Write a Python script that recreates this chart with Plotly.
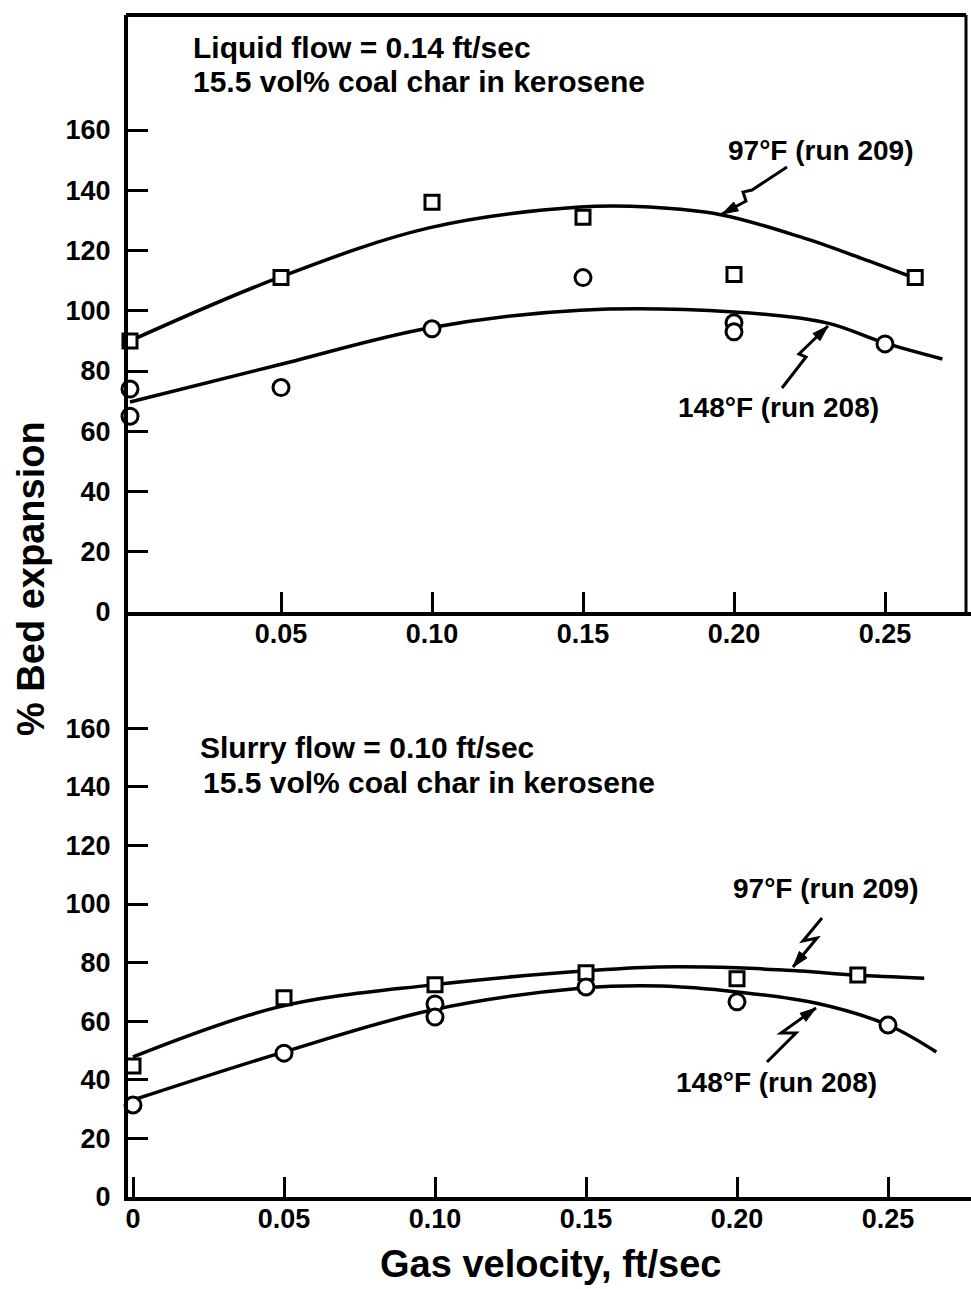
import plotly.graph_objects as go

# ---------------- data ----------------
# Top panel: liquid flow 0.14 ft/sec
top_x_97 = [0, 0.05, 0.10, 0.15, 0.20, 0.26]
top_y_97 = [90, 111, 136, 131, 112, 111]
top_x_148 = [0, 0, 0.05, 0.10, 0.15, 0.20, 0.20, 0.25]
top_y_148 = [74, 65, 74.5, 94, 111, 96, 93, 89]
top_fit_x_97 = [0, 0.049, 0.099, 0.149, 0.172, 0.196, 0.222, 0.242, 0.259]
top_fit_y_97 = [90, 110.9, 127.5, 134.4, 134.4, 131.8, 124.5, 117.5, 111.2]
top_fit_x_148 = [0, 0.049, 0.099, 0.149, 0.2, 0.231, 0.249, 0.269]
top_fit_y_148 = [69.7, 82, 94.3, 100.2, 99.6, 95.9, 89.6, 84]

# Bottom panel: slurry flow 0.10 ft/sec
bot_x_97 = [0, 0.05, 0.10, 0.15, 0.20, 0.24]
bot_y_97 = [44.7, 68, 72.4, 76.5, 74.5, 75.8]
bot_x_148 = [0, 0.05, 0.10, 0.10, 0.15, 0.20, 0.25]
bot_y_148 = [31.4, 49.1, 65.9, 61.4, 71.7, 66.6, 58.7]
bot_fit_x_97 = [0, 0.048, 0.099, 0.149, 0.174, 0.2, 0.221, 0.239, 0.262]
bot_fit_y_97 = [47.8, 64.8, 72.4, 77.1, 78.5, 78.2, 77.1, 75.8, 74.7]
bot_fit_x_148 = [0, 0.0487, 0.099, 0.149, 0.175, 0.2, 0.226, 0.25, 0.266]
bot_fit_y_148 = [33.1, 49.1, 63.8, 71.3, 72.0, 70.0, 66.2, 58.7, 49.5]

x_tickvals_top = [0.05, 0.10, 0.15, 0.20, 0.25]
x_ticktext_top = ["0.05", "0.10", "0.15", "0.20", "0.25"]
x_tickvals_bot = [0, 0.05, 0.10, 0.15, 0.20, 0.25]
x_ticktext_bot = ["0", "0.05", "0.10", "0.15", "0.20", "0.25"]
y_tickvals = [0, 20, 40, 60, 80, 100, 120, 140, 160]

# ---------------- figure ----------------
W, H = 971, 1289
FONT = "Liberation Sans"


def PX(x):
    return x / W


def PY(y):
    return 1 - y / H


fig = go.Figure()

line_style = dict(color="black", width=3.5, shape="spline", smoothing=1.0)
sq = dict(symbol="square", size=14, color="white", line=dict(color="black", width=3))
ci = dict(symbol="circle", size=16, color="white", line=dict(color="black", width=3))

for xa, ya, fx97, fy97, fx148, fy148, x97, y97, x148, y148 in [
    ("x", "y", top_fit_x_97, top_fit_y_97, top_fit_x_148, top_fit_y_148,
     top_x_97, top_y_97, top_x_148, top_y_148),
    ("x2", "y2", bot_fit_x_97, bot_fit_y_97, bot_fit_x_148, bot_fit_y_148,
     bot_x_97, bot_y_97, bot_x_148, bot_y_148),
]:
    fig.add_trace(go.Scatter(x=fx97, y=fy97, mode="lines", line=line_style,
                             xaxis=xa, yaxis=ya, cliponaxis=False, showlegend=False))
    fig.add_trace(go.Scatter(x=fx148, y=fy148, mode="lines", line=line_style,
                             xaxis=xa, yaxis=ya, cliponaxis=False, showlegend=False))
    fig.add_trace(go.Scatter(x=x97, y=y97, mode="markers", marker=sq,
                             xaxis=xa, yaxis=ya, cliponaxis=False, showlegend=False))
    fig.add_trace(go.Scatter(x=x148, y=y148, mode="markers", marker=ci,
                             xaxis=xa, yaxis=ya, cliponaxis=False, showlegend=False))

tickfont = dict(family=FONT, size=27, color="black", weight="bold")
common_axis = dict(showline=True, linewidth=4, linecolor="black", showgrid=False,
                   zeroline=False, ticks="inside", ticklen=20, tickwidth=3,
                   tickcolor="black", tickfont=tickfont)

fig.update_layout(
    width=W, height=H,
    margin=dict(l=0, r=0, t=0, b=0, autoexpand=False),
    paper_bgcolor="white", plot_bgcolor="white",
    showlegend=False,
    xaxis=dict(domain=[128 / W, 1], range=[(128 - 130) / 3020, (971 - 130) / 3020],
               anchor="y", tickvals=x_tickvals_top, ticktext=x_ticktext_top,
               ticklabelstandoff=-5, **common_axis),
    yaxis=dict(domain=[PY(612), PY(15)], range=[0, (612 - 15) / 3.0125], anchor="x",
               tickvals=y_tickvals, ticklabelstandoff=8, **common_axis),
    xaxis2=dict(domain=[128 / W, 1], range=[(128 - 133) / 3020, (971 - 133) / 3020],
                anchor="y2", tickvals=x_tickvals_bot, ticktext=x_ticktext_bot,
                ticklabelstandoff=-5, **common_axis),
    yaxis2=dict(domain=[PY(1197), PY(612)], range=[0, (1197 - 612) / 2.93], anchor="x2",
                tickvals=y_tickvals, ticklabelstandoff=8, **common_axis),
)

# frame of the top panel (top and right borders)
shapes = [
    dict(type="line", xref="paper", yref="paper", x0=PX(126), x1=PX(966),
         y0=PY(15), y1=PY(15), line=dict(color="black", width=4)),
    dict(type="line", xref="paper", yref="paper", x0=PX(966), x1=PX(966),
         y0=PY(15), y1=PY(612), line=dict(color="black", width=3)),
]


def bolt(pts):
    path = "M " + " L ".join(f"{PX(x):.5f} {PY(y):.5f}" for x, y in pts)
    shapes.append(dict(type="path", xref="paper", yref="paper", path=path,
                       line=dict(color="black", width=3)))
    (x1, y1), (x2, y2) = pts[-2], pts[-1]
    dx, dy = x2 - x1, y2 - y1
    L = (dx * dx + dy * dy) ** 0.5
    ux, uy = dx / L, dy / L
    bx, by = x2 - ux * 16, y2 - uy * 16
    nx, ny = -uy * 5, ux * 5
    tri = [(x2, y2), (bx + nx, by + ny), (bx - nx, by - ny)]
    p = "M " + " L ".join(f"{PX(x):.5f} {PY(y):.5f}" for x, y in tri) + " Z"
    shapes.append(dict(type="path", xref="paper", yref="paper", path=p,
                       fillcolor="black", line=dict(color="black", width=1)))


bolt([(787, 167), (752, 190), (743, 192), (746, 201), (722, 214)])
bolt([(782, 388), (806, 357), (799, 354), (828, 326)])
bolt([(822, 918), (803, 941), (817, 938), (793, 967)])
bolt([(767, 1062), (796, 1033), (781, 1033), (816, 1008)])

fig.update_layout(shapes=shapes)

labfont = dict(family=FONT, size=30, color="black", weight="bold")
serfont = dict(family=FONT, size=28, color="black", weight="bold")
titlefont = dict(family=FONT, size=38, color="black", weight="bold")
annotations = [
    dict(text="Liquid flow = 0.14 ft/sec", x=PX(191), y=PY(48), xanchor="left",
         yanchor="middle", font=labfont),
    dict(text="15.5 vol% coal char in kerosene", x=PX(191), y=PY(81), xanchor="left",
         yanchor="middle", font=labfont),
    dict(text="97°F (run 209)", x=PX(820), y=PY(150), xanchor="center",
         yanchor="middle", font=serfont),
    dict(text="148°F (run 208)", x=PX(778), y=PY(407), xanchor="center",
         yanchor="middle", font=serfont),
    dict(text="Slurry flow = 0.10 ft/sec", x=PX(198), y=PY(747), xanchor="left",
         yanchor="middle", font=labfont),
    dict(text="15.5 vol% coal char in kerosene", x=PX(201), y=PY(782), xanchor="left",
         yanchor="middle", font=labfont),
    dict(text="97°F (run 209)", x=PX(825), y=PY(888), xanchor="center",
         yanchor="middle", font=serfont),
    dict(text="148°F (run 208)", x=PX(776), y=PY(1082), xanchor="center",
         yanchor="middle", font=serfont),
    dict(text="% Bed expansion", x=PX(31), y=PY(579), xanchor="center",
         yanchor="middle", textangle=-90, font=titlefont),
    dict(text="Gas velocity, ft/sec", x=PX(550), y=PY(1264), xanchor="center",
         yanchor="middle", font=titlefont),
]
for a in annotations:
    a.update(xref="paper", yref="paper", showarrow=False)
fig.update_layout(annotations=annotations)

fig.write_html("out.html")
